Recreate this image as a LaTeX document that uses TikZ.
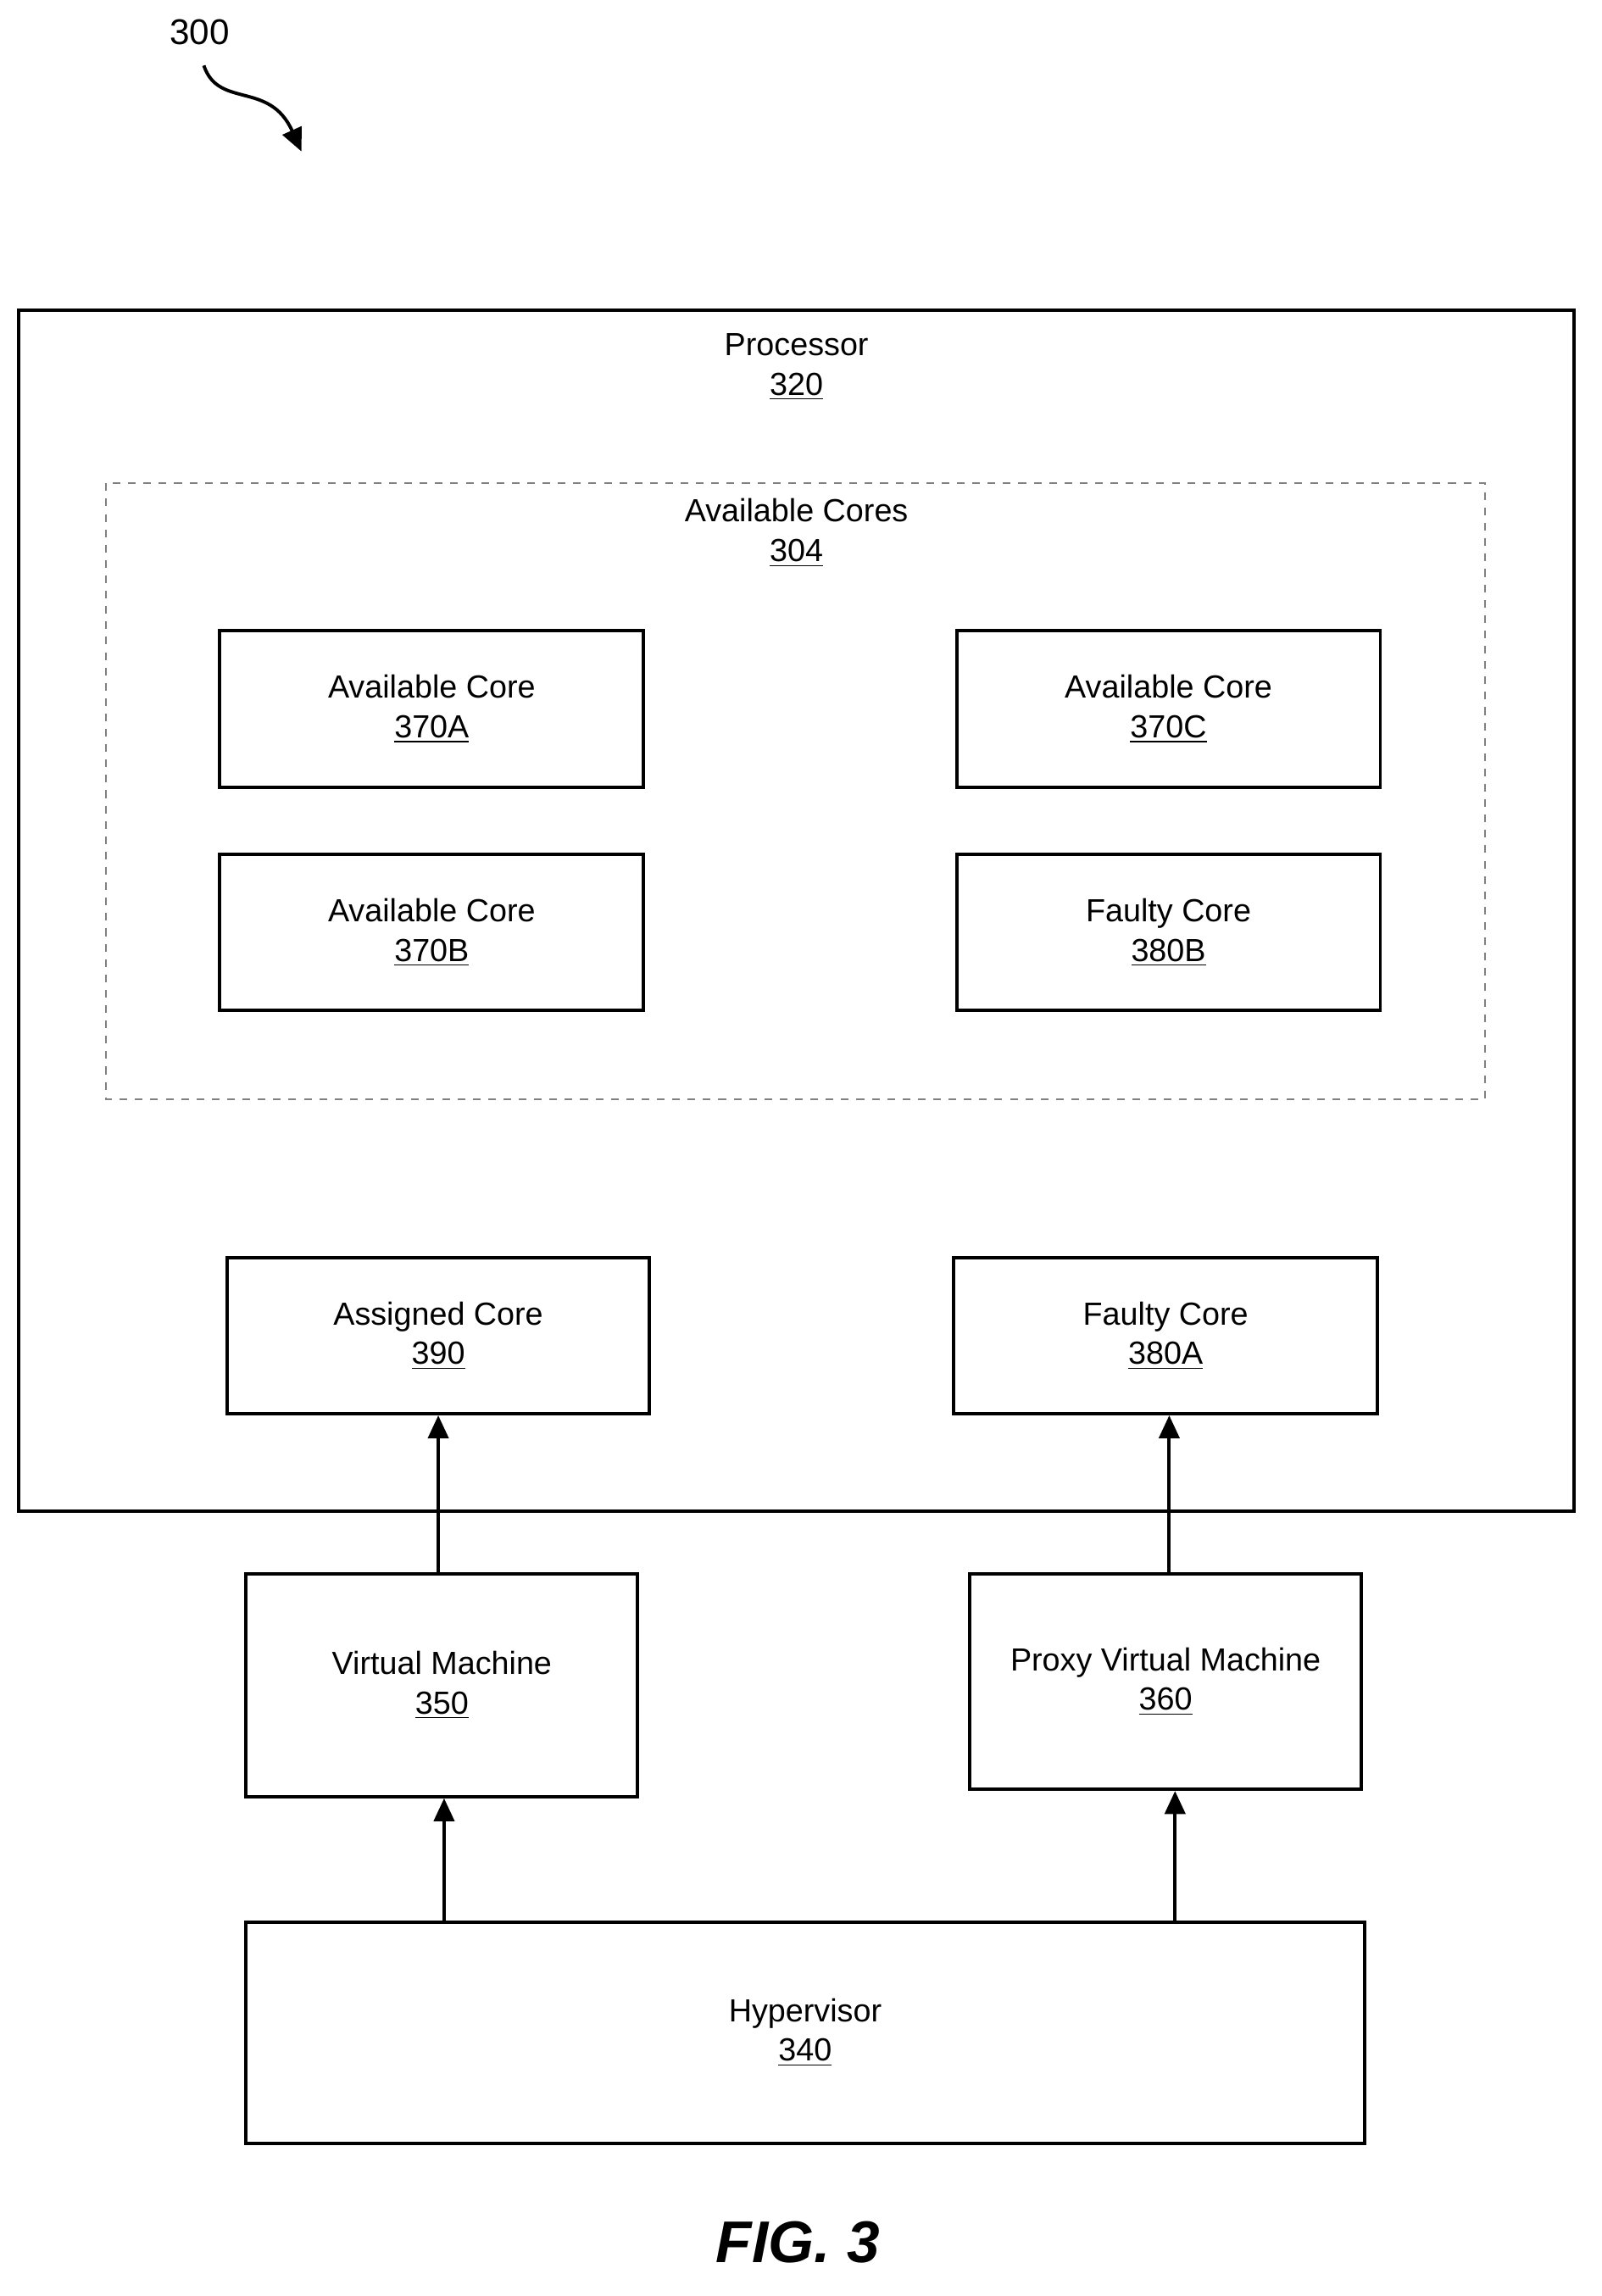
\documentclass[tikz,border=0pt]{standalone}
\usepackage{fontspec}
\setmainfont{Liberation Sans}
\usetikzlibrary{arrows.meta}
\begin{document}
\begin{tikzpicture}[x=0.02cm,y=-0.02cm,
  box/.style={draw,line width=1.3pt,align=center,font=\fontsize{12.5}{15.5}\selectfont},
  lab/.style={align=center,font=\fontsize{12.5}{15.5}\selectfont},
  arr/.style={line width=1.3pt,-{Triangle[length=9pt,width=8pt]}}]
\useasboundingbox (0,0) rectangle (1100,1577);
\draw[line width=1.3pt] (13,213) rectangle (1081,1038);
\node[lab] (proc) at (547,252) {Processor\\\underline{320}};
\draw[dashed,gray,line width=0.6pt] (73,332) rectangle (1020,755);
\node[lab] (avc) at (547,366) {Available Cores\\\underline{304}};
\newcommand{\bx}[6]{\node[box,minimum width={(#4-#2)*0.02cm},minimum height={(#5-#3)*0.02cm}] (#1) at ({(#2+#4)/2},{(#3+#5)/2}) {#6};}
\bx{a}{151}{433}{442}{541}{Available Core\\\underline{370A}}
\bx{c}{657}{433}{948}{541}{Available Core\\\underline{370C}}
\bx{b}{151}{587}{442}{694}{Available Core\\\underline{370B}}
\bx{fb}{657}{587}{948}{694}{Faulty Core\\\underline{380B}}
\bx{ac}{156}{864}{446}{971}{Assigned Core\\\underline{390}}
\bx{fa}{655}{864}{946}{971}{Faulty Core\\\underline{380A}}
\bx{vm}{169}{1081}{438}{1234}{Virtual Machine\\\underline{350}}
\bx{pvm}{666}{1081}{935}{1229}{Proxy Virtual Machine\\\underline{360}}
\bx{hv}{169}{1320}{937}{1472}{Hypervisor\\\underline{340}}
\draw[arr] (vm.north -| 301,0) -- (ac.south -| 301,0);
\draw[arr] (pvm.north -| 803,0) -- (fa.south -| 803,0);
\draw[arr] (hv.north -| 305,0) -- (vm.south -| 305,0);
\draw[arr] (hv.north -| 807,0) -- (pvm.south -| 807,0);
\node[lab,font=\fontsize{14}{16}\selectfont] (n300) at (137,22) {300};
\coordinate (t) at (207,104);
\draw[line width=1.3pt,-{Triangle[length=9pt,width=8pt]}] (140,45) .. controls (150,75) and (185,55) .. (t);
\node[font=\fontsize{23}{26}\selectfont\bfseries\itshape] (fig) at (548,1540) {FIG. 3};
\end{tikzpicture}
\end{document}
